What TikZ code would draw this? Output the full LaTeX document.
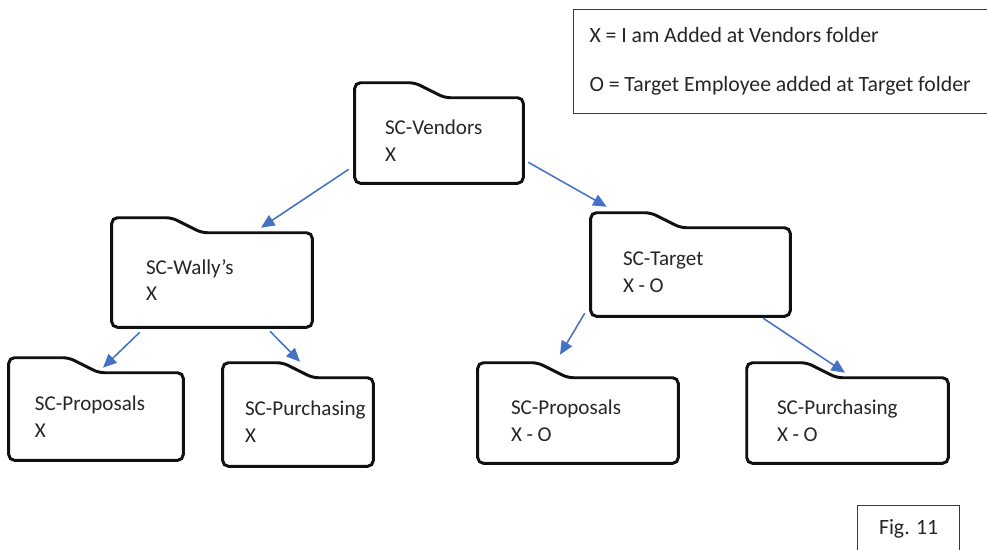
\documentclass[tikz,border=0pt]{standalone}
\usepackage{fontspec}
\setmainfont{Carlito}
\usepackage{xcolor}
\usepackage{tikz}
\usetikzlibrary{arrows.meta,positioning,calc}
\definecolor{linkblue}{HTML}{4472C4}
\definecolor{edgeblack}{HTML}{101010}
\definecolor{legendgray}{HTML}{3A3A3A}
\tikzset{
  folder/.style={inner xsep=0.75cm, inner ysep=0pt, align=left, font=\fontsize{15}{19}\selectfont, execute at begin node={\spaceskip=3.3pt\relax}, text=black!85},
  folderline/.style={draw=edgeblack, line width=2.1pt, rounded corners=4pt},
  legend/.style={draw=legendgray, line width=0.9pt, align=left, inner xsep=0.4cm, font=\fontsize{15.5}{18}\selectfont, execute at begin node={\spaceskip=3.4pt\relax}, text=black!85},
  arrow/.style={-{Triangle[length=3.4mm, width=3mm]}, line width=1.1pt, draw=linkblue}
}

\begin{document}
\begin{tikzpicture}
  \useasboundingbox (0,0) rectangle (24.675,-13.725);

  \node[folder, text width=2.7cm, minimum height=2.125cm] (vendors) at (10.975,-3.5125) {SC-Vendors\\X};
  \node[folder, text width=3.3cm, minimum height=2.35cm, inner xsep=0.85cm] (wallys) at (5.3,-7.0) {SC-Wally's\\X};
  \node[folder, text width=3.375cm, minimum height=2.2cm, inner xsep=0.8cm] (target) at (17.2625,-6.8) {SC-Target\\X - O};

  \node[folder, text width=3.05cm, minimum height=2.175cm, inner xsep=0.65cm] (propsl) at (2.4,-10.4125) {\mbox{SC-Proposals}\\X};
  \node[folder, text width=2.65cm, minimum height=2.2cm, inner xsep=0.55cm] (purchl) at (7.45,-10.55) {\mbox{SC-Purchasing}\\X};
  \node[folder, text width=3.35cm, minimum height=2.125cm, inner xsep=0.825cm] (propsr) at (14.45,-10.5125) {SC-Proposals\\X - O};
  \node[folder, text width=3.525cm, minimum height=2.125cm] (purchr) at (21.1875,-10.5125) {SC-Purchasing\\X - O};

  % folder outlines with tab
  \foreach \f in {vendors,wallys,target,propsl,purchl,propsr,purchr}
    \draw[folderline] (\f.south west) -- ([yshift=0.375cm]\f.north west)
      -- ([xshift=1.5cm,yshift=0.375cm]\f.north west) -- ([xshift=2.25cm]\f.north west)
      -- (\f.north east) -- (\f.south east) -- cycle;

  \node[legend, anchor=north west, text width=9.875cm, minimum height=2.6cm] (key) at (14.325,-0.225)
    {X = I am Added at Vendors folder\\[0.6cm]O = Target Employee added at Target folder};
  \node[legend, anchor=north west, align=center, minimum width=2.55cm, minimum height=1.15cm, inner xsep=0pt] (fig) at (21.425,-12.625) {Fig. 11};

  \draw[arrow] ([xshift=-0.15cm,yshift=0.35cm]vendors.south west) -- ([xshift=1.225cm,yshift=0.125cm]wallys.north);
  \draw[arrow] ([xshift=0.125cm,yshift=0.525cm]vendors.south east) -- ([xshift=0.4cm,yshift=0.525cm]target.north west);
  \draw[arrow] ([xshift=0.7cm,yshift=-0.125cm]wallys.south west) -- ([xshift=0.175cm,yshift=0.125cm]propsl.north);
  \draw[arrow] ([xshift=1.45cm,yshift=-0.1cm]wallys.south) -- ([xshift=0.05cm,yshift=0.4cm]purchl.north);
  \draw[arrow] ([xshift=-0.15cm,yshift=0.075cm]target.south west) -- ([xshift=-0.45cm,yshift=0.575cm]propsr.north);
  \draw[arrow] ([xshift=-0.675cm,yshift=-0.05cm]target.south east) -- ([xshift=-0.0625cm,yshift=0.125cm]purchr.north);
\end{tikzpicture}
\end{document}
